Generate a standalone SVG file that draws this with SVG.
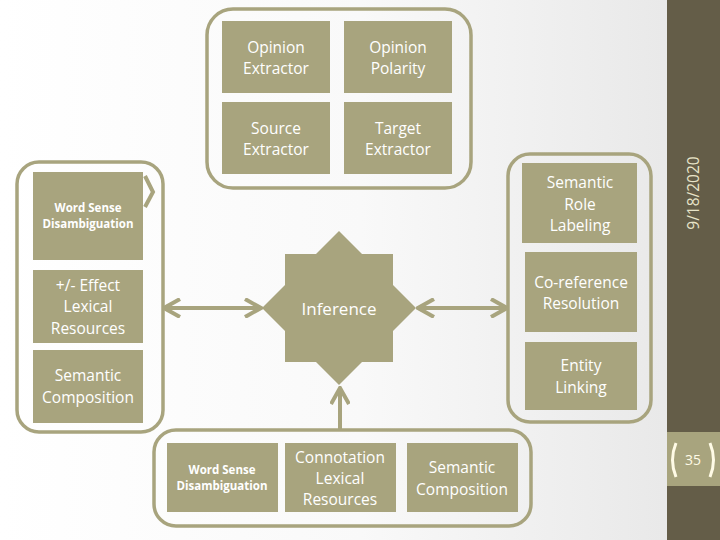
<svg xmlns="http://www.w3.org/2000/svg" width="720" height="540" viewBox="0 0 720 540">
<defs>
<linearGradient id="bg" x1="0" y1="0" x2="1" y2="0">
<stop offset="0" stop-color="#ffffff"/>
<stop offset="0.5" stop-color="#f9f9f9"/>
<stop offset="1" stop-color="#e6e6e6"/>
</linearGradient>
<marker id="chev" viewBox="0 0 20 20" refX="18" refY="10" markerWidth="20" markerHeight="20" markerUnits="userSpaceOnUse" orient="auto-start-reverse">
<path d="M2,1 L18,10 L2,19" fill="none" stroke="#a8a47e" stroke-width="4"/>
</marker>
</defs>
<style>
.box{fill:#a8a47e}
.cont{fill:none;stroke:#a8a47e;stroke-width:3.5}
.t{font-family:"Open Sans","Noto Sans","Liberation Sans",sans-serif;font-size:15.5px;fill:#ffffff;text-anchor:middle}
.s{font-family:"Open Sans","Noto Sans","Liberation Sans",sans-serif;font-size:11.5px;font-weight:bold;fill:#ffffff;text-anchor:middle}
.conn{fill:none;stroke:#a8a47e;stroke-width:4}
</style>
<rect x="0" y="0" width="720" height="540" fill="url(#bg)"/>
<rect x="667" y="0" width="53" height="540" fill="#645d48"/>
<g id="date"><text transform="translate(699,193) rotate(-90)" style="font-family:'Open Sans','Noto Sans',sans-serif;font-size:15.5px;fill:#e8e4c8;text-anchor:middle">9/18/2020</text></g>
<g id="pagenum">
<rect x="667" y="432" width="53" height="54" fill="#a8a47e"/>
<path d="M676,443 Q669,460 676,477" fill="none" stroke="#fffbe6" stroke-width="3"/>
<path d="M710,443 Q717,460 710,477" fill="none" stroke="#fffbe6" stroke-width="3"/>
<text x="693" y="465" style="font-family:'Open Sans','Noto Sans',sans-serif;font-size:14px;fill:#fffbe6;text-anchor:middle">35</text>
</g>

<g id="top-group">
<rect class="cont" x="207" y="9" width="264" height="179" rx="26"/>
<g id="opinion-extractor"><rect class="box" x="222" y="21" width="108" height="72"/><text class="t" x="276" y="53">Opinion</text><text class="t" x="276" y="74">Extractor</text></g>
<g id="opinion-polarity"><rect class="box" x="344" y="21" width="108" height="72"/><text class="t" x="398" y="53">Opinion</text><text class="t" x="398" y="74">Polarity</text></g>
<g id="source-extractor"><rect class="box" x="222" y="102" width="108" height="72"/><text class="t" x="276" y="134">Source</text><text class="t" x="276" y="155">Extractor</text></g>
<g id="target-extractor"><rect class="box" x="344" y="102" width="108" height="72"/><text class="t" x="398" y="134">Target</text><text class="t" x="398" y="155">Extractor</text></g>
</g>

<g id="left-group">
<rect class="cont" x="17" y="162" width="146" height="270" rx="22"/>
<g id="wsd-left"><rect class="box" x="33" y="172" width="110" height="88"/><text class="s" x="88" y="212">Word Sense</text><text class="s" x="88" y="228">Disambiguation</text></g>
<g id="effect-lexical"><rect class="box" x="33" y="270" width="110" height="73"/><text class="t" x="88" y="291">+/- Effect</text><text class="t" x="88" y="312">Lexical</text><text class="t" x="88" y="334">Resources</text></g>
<g id="semcomp-left"><rect class="box" x="33" y="350" width="110" height="73"/><text class="t" x="88" y="381">Semantic</text><text class="t" x="88" y="403">Composition</text></g>
</g>

<g id="right-group">
<rect class="cont" x="508" y="154" width="143" height="268" rx="22"/>
<g id="srl"><rect class="box" x="522" y="163" width="115" height="80"/><text class="t" x="580" y="188">Semantic</text><text class="t" x="580" y="210">Role</text><text class="t" x="580" y="231">Labeling</text></g>
<g id="coref"><rect class="box" x="525" y="252" width="112" height="80"/><text class="t" x="581" y="288">Co-reference</text><text class="t" x="581" y="309">Resolution</text></g>
<g id="entity-linking"><rect class="box" x="525" y="342" width="112" height="68"/><text class="t" x="581" y="371">Entity</text><text class="t" x="581" y="393">Linking</text></g>
</g>

<g id="bottom-group">
<rect class="cont" x="154" y="430" width="377" height="96" rx="22"/>
<g id="wsd-bottom"><rect class="box" x="167" y="443" width="111" height="69"/><text class="s" x="222" y="474">Word Sense</text><text class="s" x="222" y="490">Disambiguation</text></g>
<g id="connotation"><rect class="box" x="285" y="443" width="111" height="69"/><text class="t" x="340" y="463">Connotation</text><text class="t" x="340" y="484">Lexical</text><text class="t" x="340" y="505">Resources</text></g>
<g id="semcomp-bottom"><rect class="box" x="407" y="443" width="111" height="69"/><text class="t" x="462" y="473">Semantic</text><text class="t" x="462" y="495">Composition</text></g>
</g>

<g id="inference">
<polygon class="box" points="339,231 362,254 393,254 393,285 416,308 393,331 393,362 362,362 339,385 316,362 285,362 285,331 262,308 285,285 285,254 316,254"/>
<text x="339" y="315" style="font-family:'Open Sans','Noto Sans',sans-serif;font-size:17px;fill:#ffffff;text-anchor:middle">Inference</text>
</g>

<g id="connectors">
<line class="conn" x1="164" y1="308" x2="261" y2="308" marker-start="url(#chev)" marker-end="url(#chev)"/>
<line class="conn" x1="418" y1="308" x2="507" y2="308" marker-start="url(#chev)" marker-end="url(#chev)"/>
<line class="conn" x1="340" y1="429" x2="340" y2="388" marker-end="url(#chev)"/>
<polyline class="conn" points="145,176 153,192 145,207"/>
</g>
</svg>
